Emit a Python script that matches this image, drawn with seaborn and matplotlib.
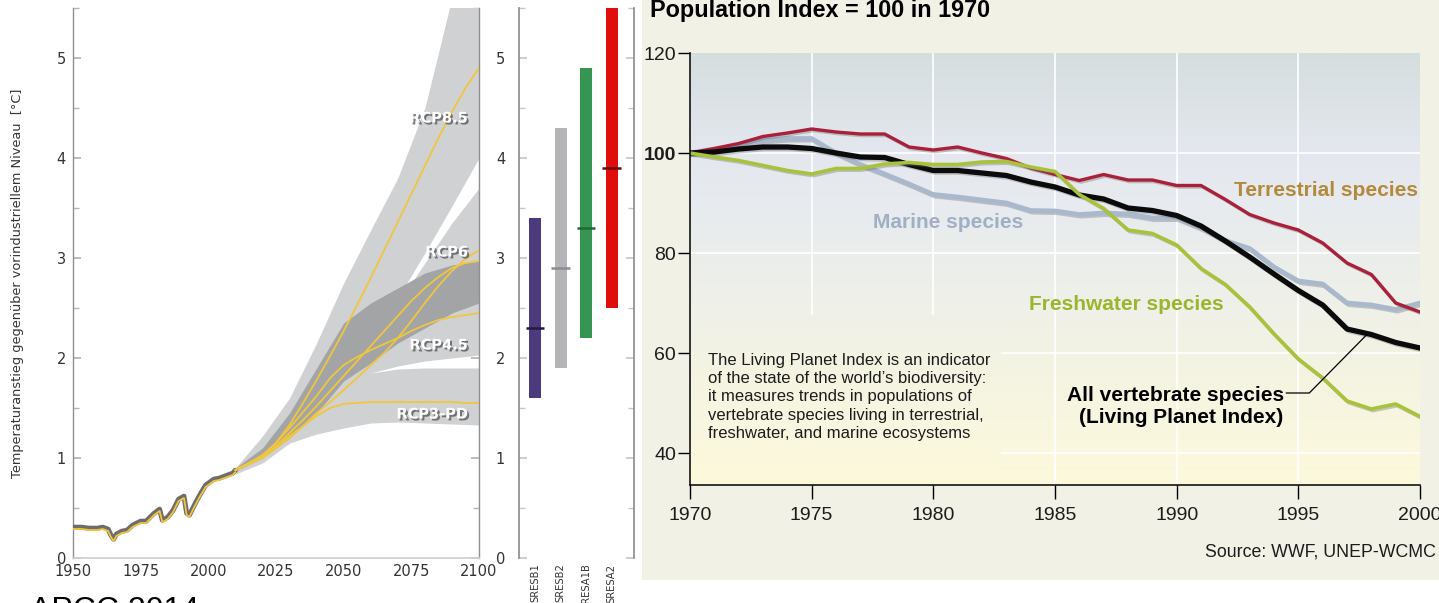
import numpy as np
import pandas as pd
import matplotlib
matplotlib.use("Agg")
import matplotlib.pyplot as plt
import matplotlib.patheffects as pe
import matplotlib.transforms as mtransforms
from matplotlib.colors import LinearSegmentedColormap
from matplotlib.patches import Rectangle
from matplotlib.ticker import MultipleLocator
import seaborn as sns

# ---------------- temperature projections (deg C above pre-industrial) ----------------
hist_years = [1950, 1953, 1956, 1959, 1961, 1963, 1964, 1965, 1966, 1968, 1970, 1972,
              1975, 1977, 1980, 1982, 1983, 1985, 1987, 1989, 1991, 1992, 1993, 1995,
              1997, 1999, 2002, 2004, 2006, 2009, 2010]
hist_temp = [0.29, 0.29, 0.28, 0.28, 0.29, 0.27, 0.21, 0.17, 0.22, 0.25, 0.26, 0.31,
             0.35, 0.35, 0.43, 0.47, 0.36, 0.39, 0.46, 0.57, 0.60, 0.43, 0.41, 0.52,
             0.62, 0.71, 0.77, 0.78, 0.80, 0.83, 0.86]

proj_years = [2010, 2015, 2020, 2025, 2030, 2035, 2040, 2045, 2050, 2055,
              2060, 2065, 2070, 2075, 2080, 2085, 2090, 2095, 2100]
proj_rcp85 = [0.88, 0.95, 1.03, 1.15, 1.33, 1.55, 1.78, 2.02, 2.27, 2.53,
              2.80, 3.08, 3.36, 3.64, 3.92, 4.20, 4.46, 4.70, 4.90]
proj_rcp6a = [0.88, 0.94, 1.01, 1.10, 1.20, 1.32, 1.45, 1.56, 1.68, 1.80,
              1.93, 2.05, 2.20, 2.37, 2.55, 2.72, 2.87, 2.99, 3.08]
proj_rcp6b = [0.88, 0.94, 1.01, 1.12, 1.25, 1.38, 1.52, 1.67, 1.82, 1.97,
              2.12, 2.27, 2.42, 2.57, 2.70, 2.81, 2.90, 2.95, 2.97]
proj_rcp45 = [0.88, 0.95, 1.02, 1.15, 1.30, 1.46, 1.62, 1.80, 1.93, 2.01,
              2.08, 2.14, 2.20, 2.27, 2.33, 2.38, 2.41, 2.43, 2.45]
proj_rcp3 = [0.88, 0.94, 1.00, 1.10, 1.22, 1.32, 1.42, 1.50, 1.54, 1.55,
             1.56, 1.56, 1.56, 1.56, 1.56, 1.56, 1.56, 1.55, 1.55]

band_years = [2010, 2020, 2030, 2040, 2050, 2060, 2070, 2080, 2090, 2100]
band_rcp85_lo = [0.87, 1.00, 1.25, 1.60, 2.00, 2.20, 2.60, 3.05, 3.52, 4.00]
band_rcp85_hi = [0.90, 1.22, 1.60, 2.15, 2.75, 3.28, 3.80, 4.50, 5.60, 6.40]
band_rcp6_lo = [0.86, 0.98, 1.15, 1.35, 1.60, 1.85, 2.10, 2.30, 2.45, 2.55]
band_rcp6_hi = [0.88, 1.05, 1.30, 1.60, 1.90, 2.20, 2.55, 2.95, 3.35, 3.70]
band_rcp45_lo = [0.86, 0.98, 1.15, 1.40, 1.77, 1.85, 1.92, 1.97, 2.00, 2.03]
band_rcp45_hi = [0.88, 1.05, 1.35, 1.70, 2.05, 2.40, 2.65, 2.80, 2.90, 2.95]
band_rcp3_lo = [0.84, 0.95, 1.15, 1.24, 1.30, 1.35, 1.36, 1.35, 1.34, 1.33]
band_rcp3_hi = [0.88, 1.05, 1.30, 1.55, 1.77, 1.85, 1.89, 1.90, 1.90, 1.90]
band_core_lo = [0.87, 1.00, 1.20, 1.45, 1.77, 1.95, 2.15, 2.30, 2.45, 2.55]
band_core_hi = [0.90, 1.10, 1.45, 1.90, 2.35, 2.55, 2.70, 2.85, 2.93, 2.97]

rcp_labels = ["RCP8.5", "RCP6", "RCP4.5", "RCP3-PD"]
rcp_label_pos = [(2096, 4.40), (2096, 3.06), (2096, 2.13), (2096, 1.44)]

# ---------------- SRES ranges for 2100 ----------------
sres_names = ["SRESB1", "SRESB2", "SRESA1B", "SRESA2"]
sres_low = [1.6, 1.9, 2.2, 2.5]
sres_high = [3.4, 4.3, 4.9, 5.5]
sres_best = [2.3, 2.9, 3.3, 3.9]
sres_colors = ["#4b3b7e", "#b5b5b8", "#379553", "#e00d0d"]
sres_best_colors = ["#221a44", "#8d8d91", "#1d6a37", "#6a0a0a"]

# ---------------- Living Planet Index ----------------
lpi_years = list(range(1970, 2001))
lpi_terrestrial = [100, 100.9, 101.9, 103.3, 104.0, 104.8, 104.2, 103.8, 103.8, 101.2,
                   100.6, 101.2, 100.0, 98.9, 97.0, 95.7, 94.5, 95.7, 94.6, 94.6,
                   93.5, 93.5, 90.7, 87.7, 86.0, 84.6, 82.0, 78.0, 75.7, 70.0, 68.2]
lpi_marine = [100, 100.8, 101.5, 102.5, 102.9, 102.9, 100.0, 97.7, 95.8, 93.8,
              91.7, 91.2, 90.6, 90.0, 88.5, 88.4, 87.7, 88.0, 87.8, 87.0,
              87.0, 85.0, 82.5, 80.9, 77.2, 74.4, 73.8, 70.0, 69.6, 68.7, 70.0]
lpi_all = [100, 100.2, 100.8, 101.2, 101.2, 100.9, 100.0, 99.2, 99.1, 97.7,
           96.5, 96.5, 96.0, 95.5, 94.2, 93.2, 91.6, 90.8, 89.0, 88.5,
           87.5, 85.4, 82.4, 79.2, 75.8, 72.5, 69.6, 64.8, 63.7, 62.1, 61.0]
lpi_freshwater = [100, 99.2, 98.5, 97.5, 96.5, 95.8, 96.9, 96.9, 97.8, 98.1,
                  97.7, 97.7, 98.2, 98.3, 97.2, 96.3, 91.7, 88.9, 84.6, 83.9,
                  81.6, 76.9, 73.7, 69.2, 63.8, 58.8, 55.0, 50.4, 48.8, 49.8, 47.3]
lpi_xticks = [1970, 1975, 1980, 1985, 1990, 1995, 2000]
lpi_yticks = [40, 60, 80, 100, 120]

# ---------------- figure ----------------
sns.set_theme(style="white")
plt.rcParams["font.family"] = ["DejaVu Sans"]

W, H = 1439, 603
fig = plt.figure(figsize=(W / 100, H / 100), dpi=100)
fig.patch.set_facecolor("white")

# beige card behind the biodiversity chart
fig.patches.append(Rectangle((642 / W, 23 / H), 1 - 642 / W, 580 / H,
                             transform=fig.transFigure, facecolor="#f2f1e6",
                             edgecolor="none", zorder=-5))

# ===== left: temperature rise =====
ax1 = fig.add_axes([73 / W, 45 / H, 406 / W, 550 / H])
light = "#cfd1d3"
for lo, hi in [(band_rcp85_lo, band_rcp85_hi), (band_rcp6_lo, band_rcp6_hi),
               (band_rcp45_lo, band_rcp45_hi), (band_rcp3_lo, band_rcp3_hi)]:
    ax1.fill_between(band_years, lo, hi, color=light, linewidth=0, zorder=1)
ax1.fill_between(band_years, band_core_lo, band_core_hi, color="#a3a4a6",
                 linewidth=0, zorder=2)

up = mtransforms.offset_copy(ax1.transData, fig=fig, x=0, y=1.8, units="dots")
sns.lineplot(x=hist_years, y=hist_temp, ax=ax1, color="#6d6d6d", lw=3.6,
             transform=up, zorder=3)
yellow = "#f1c63c"
sns.lineplot(x=hist_years, y=hist_temp, ax=ax1, color=yellow, lw=1.3, zorder=4)
for series in [proj_rcp85, proj_rcp6a, proj_rcp6b, proj_rcp45, proj_rcp3]:
    sns.lineplot(x=proj_years, y=series, ax=ax1, color=yellow, lw=1.3, zorder=4)

for lab, (lx, ly) in zip(rcp_labels, rcp_label_pos):
    ax1.text(lx, ly, lab, ha="right", va="center", color="white", fontsize=10.5,
             fontweight="bold", zorder=6,
             path_effects=[pe.withSimplePatchShadow(offset=(1.4, -1.4),
                                                    shadow_rgbFace="#4a4a4a",
                                                    alpha=0.7)])

ax1.set_xlim(1950, 2100)
ax1.set_ylim(0, 5.5)
ax1.set_xticks([1950, 1975, 2000, 2025, 2050, 2075, 2100])
ax1.set_yticks([0, 1, 2, 3, 4, 5])
ax1.yaxis.set_minor_locator(MultipleLocator(0.5))
ax1.tick_params(axis="both", which="both", direction="in", color="#b5b5b5",
                labelcolor="#333333", labelsize=10.5)
ax1.tick_params(axis="y", which="major", length=6, right=True, left=True, pad=5)
ax1.tick_params(axis="y", which="minor", length=4, right=True, left=True)
ax1.tick_params(axis="x", which="major", length=5, pad=4)
ax1.spines["top"].set_visible(False)
for s in ["left", "right"]:
    ax1.spines[s].set_color("#8f8f8f")
    ax1.spines[s].set_linewidth(1.0)
ax1.spines["bottom"].set_color("#d0d0d0")
ax1.set_ylabel("Temperaturanstieg gegenüber vorindustriellem Niveau  [°C]",
               fontsize=9.3, color="#333333")
ax1.yaxis.set_label_coords(-49 / 406, 0.5)
ax1.set_xlabel("")
ax1.grid(False)

# ===== middle: SRES ranges =====
ax2 = fig.add_axes([519 / W, 45 / H, 115 / W, 550 / H])
xs = np.arange(len(sres_names))
ax2.bar(xs, np.array(sres_high) - np.array(sres_low), bottom=sres_low, width=0.47,
        color=sres_colors, linewidth=0, zorder=2)
ax2.hlines(sres_best, xs - 0.36, xs + 0.36, colors=sres_best_colors, lw=1.8, zorder=3)
ax2.set_xlim(-0.63, 3.88)
ax2.set_ylim(0, 5.5)
ax2.set_xticks(xs)
ax2.set_xticklabels(sres_names, rotation=90, fontsize=7.2, color="#333333")
ax2.set_yticks([0, 1, 2, 3, 4, 5])
ax2.yaxis.set_minor_locator(MultipleLocator(0.5))
ax2.tick_params(axis="y", which="both", direction="in", color="#c8c8c8",
                labelcolor="#333333", labelsize=10.5, left=True, right=True)
ax2.tick_params(axis="y", which="major", length=6, pad=10)
ax2.tick_params(axis="y", which="minor", length=4)
ax2.tick_params(axis="x", length=0, pad=4)
for s in ["top", "bottom"]:
    ax2.spines[s].set_visible(False)
for s in ["left", "right"]:
    ax2.spines[s].set_color("#8f8f8f")
ax2.grid(False)

# ===== right: Living Planet Index =====
ax3 = fig.add_axes([690 / W, 118 / H, 730 / W, 432 / H])
ax3.set_facecolor("none")
y0, y1 = 33.6, 120
bg_cmap = LinearSegmentedColormap.from_list(
    "lpi_bg",
    [(0.0, "#fcf9dc"), (0.25, "#f5f4e2"), (0.42, "#eff0e8"),
     (0.60, "#e9ecee"), (0.77, "#e4e7ef"), (1.0, "#d5dede")])
grad = np.linspace(y0, y1, 256).reshape(-1, 1)
ax3.imshow(grad, extent=[1970, 2000, y0, y1], origin="lower", aspect="auto",
           cmap=bg_cmap, vmin=y0, vmax=y1, zorder=0)
for gx in lpi_xticks[1:-1]:
    ax3.axvline(gx, color="white", lw=1.2, zorder=1)
for gy in lpi_yticks[:-1]:
    ax3.axhline(gy, color="white", lw=1.2, zorder=1)
# plain panel behind the explanatory note
sub = np.linspace(y0, 67.6, 120).reshape(-1, 1)
ax3.imshow(sub, extent=[1970, 1982.75, y0, 67.6], origin="lower", aspect="auto",
           cmap=bg_cmap, vmin=y0, vmax=y1, zorder=1.5)

lpi = pd.DataFrame({
    "year": lpi_years * 4,
    "index": lpi_marine + lpi_terrestrial + lpi_all + lpi_freshwater,
    "group": (["Marine"] * 31 + ["Terrestrial"] * 31 + ["All"] * 31
              + ["Freshwater"] * 31),
})
styles = {"Marine": ("#a8b9cd", 3.4), "Terrestrial": ("#a9203b", 2.4),
          "All": ("#0b0b0b", 3.8), "Freshwater": ("#a8c23a", 2.6)}
for z, (grp, (col, lw)) in enumerate(styles.items()):
    sns.lineplot(data=lpi[lpi["group"] == grp], x="year", y="index", ax=ax3,
                 color=col, lw=lw, zorder=3 + z,
                 path_effects=[pe.SimpleLineShadow(offset=(1.2, -1.2),
                                                   shadow_color="#6a6a6a", alpha=0.35),
                               pe.Normal()])

lab_font = dict(family="Liberation Sans", fontsize=15, fontweight="bold")
ax3.text(1999.9, 92.6, "Terrestrial species", ha="right", va="center",
         color="#b38a3b", zorder=8, **lab_font)
ax3.text(1980.6, 86.2, "Marine species", ha="center", va="center",
         color="#a0b0c4", zorder=8, **lab_font)
ax3.text(1987.95, 69.8, "Freshwater species", ha="center", va="center",
         color="#9ab52e", zorder=8, **lab_font)
ax3.text(1994.4, 49.3, "All vertebrate species\n(Living Planet Index)", ha="right",
         va="center", multialignment="right", linespacing=1.15, color="black",
         zorder=8, **lab_font)
ax3.plot([1994.5, 1995.45, 1997.8], [52.0, 52.0, 63.6], color="black", lw=0.9,
         zorder=8)
ax3.text(1970.74, 51.2,
         "The Living Planet Index is an indicator\n"
         "of the state of the world\u2019s biodiversity:\n"
         "it measures trends in populations of\n"
         "vertebrate species living in terrestrial,\n"
         "freshwater, and marine ecosystems",
         ha="left", va="center", linespacing=1.29, color="#1c1c1c",
         family="Liberation Sans", fontsize=12, zorder=8)

ax3.set_xlim(1970, 2000)
ax3.set_ylim(y0, y1)
ax3.set_xticks(lpi_xticks)
ax3.set_yticks(lpi_yticks)
ax3.set_xticklabels([str(v) for v in lpi_xticks], family="Liberation Sans",
                    fontsize=14, color="#1c1c1c")
ax3.set_yticklabels([str(v) for v in lpi_yticks], family="Liberation Sans",
                    fontsize=14, color="#1c1c1c")
for t in ax3.get_yticklabels():
    if t.get_text() == "100":
        t.set_fontweight("bold")
ax3.tick_params(axis="x", direction="out", length=10, width=1.0, color="black", pad=6,
                bottom=True)
ax3.tick_params(axis="y", direction="out", length=9, width=1.0, color="black", pad=1,
                left=True)
for s in ["top", "right"]:
    ax3.spines[s].set_visible(False)
for s in ["left", "bottom"]:
    ax3.spines[s].set_color("black")
    ax3.spines[s].set_linewidth(1.1)
    ax3.spines[s].set_zorder(9)
ax3.set_xlabel("")
ax3.set_ylabel("")
ax3.grid(False)

fig.text(650 / W, 1 - 17 / H, "Population Index = 100 in 1970", ha="left",
         va="baseline", family="Liberation Sans", fontsize=16.8, fontweight="bold",
         color="black")
fig.text(1205 / W, 1 - 552 / H, "Source: WWF, UNEP-WCMC", ha="left", va="center",
         family="Liberation Sans", fontsize=12.8, color="#1c1c1c")
fig.text(30 / W, 1 - 619 / H, "APCC 2014", ha="left", va="baseline",
         family="Liberation Sans", fontsize=23, color="black")

fig.savefig("out.png", dpi=100)
